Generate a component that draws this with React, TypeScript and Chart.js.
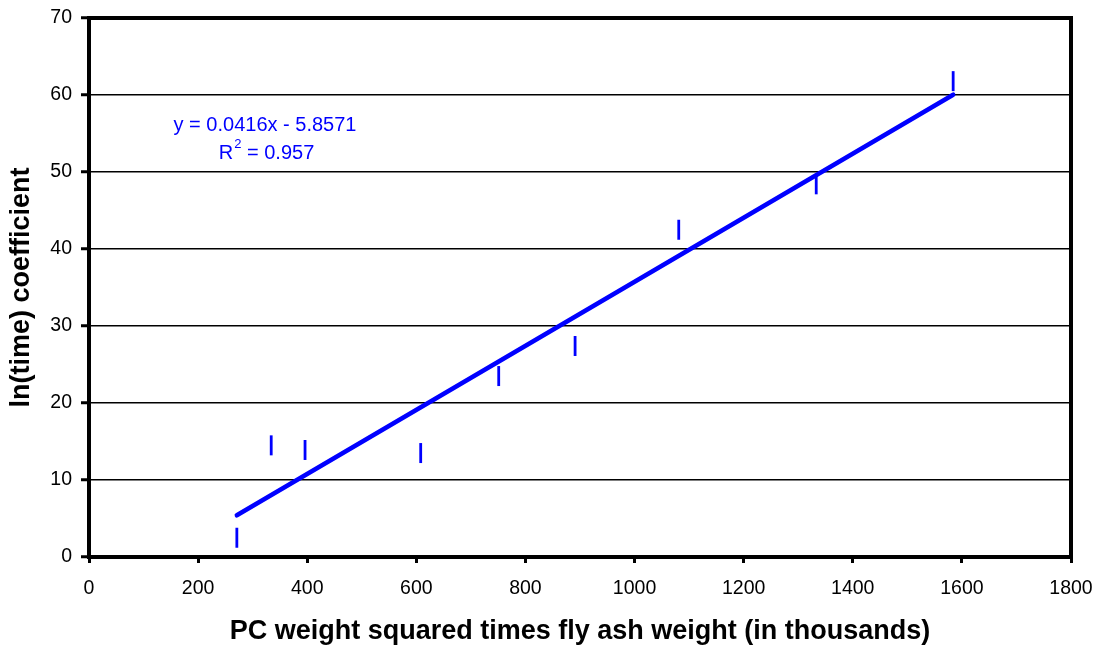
import React, { useEffect, useRef } from "react";
import { Chart, registerables } from "chart.js";

Chart.register(...registerables);

const xValues = [271, 334, 396, 608, 751, 891, 1081, 1333, 1584];
const yValues = [2.5, 14.5, 13.9, 13.5, 23.5, 27.4, 42.5, 48.4, 61.8];
const slope = 0.0416;
const intercept = -5.8571;
const equationText = "y = 0.0416x - 5.8571";
const r2Value = "0.957";
const xTitle = "PC weight squared times fly ash weight (in thousands)";
const yTitle = "ln(time) coefficient";

const FONT = "'Liberation Sans', Arial, sans-serif";

export default function App() {
  const ref = useRef<HTMLCanvasElement | null>(null);

  useEffect(() => {
    document.body.style.margin = "0";
    const canvas = ref.current!;
    const xMin = Math.min(...xValues);
    const xMax = Math.max(...xValues);
    const trend = [
      { x: xMin, y: slope * xMin + intercept },
      { x: xMax, y: slope * xMax + intercept },
    ];
    const points = xValues.map((x, i) => ({ x, y: yValues[i] }));

    const borderPlugin = {
      id: "frame",
      afterDatasetsDraw(chart: any) {
        const { ctx, chartArea } = chart;
        ctx.save();
        ctx.strokeStyle = "#000";
        ctx.lineWidth = 4;
        ctx.lineJoin = "miter";
        ctx.strokeRect(
          chartArea.left,
          chartArea.top,
          chartArea.right - chartArea.left,
          chartArea.bottom - chartArea.top
        );
        ctx.restore();
      },
      afterDraw(chart: any) {
        const { ctx } = chart;
        ctx.save();
        ctx.fillStyle = "#0000ff";
        ctx.textBaseline = "middle";
        ctx.font = `20px ${FONT}`;
        ctx.textAlign = "center";
        ctx.fillText(equationText, 265, 125);
        const part1 = "R";
        const part3 = " = " + r2Value;
        ctx.font = `20px ${FONT}`;
        const w1 = ctx.measureText(part1).width;
        const w3 = ctx.measureText(part3).width;
        ctx.font = `13px ${FONT}`;
        const w2 = ctx.measureText("2").width;
        const total = w1 + w2 + w3;
        let x = 266 - total / 2;
        ctx.textAlign = "left";
        ctx.font = `20px ${FONT}`;
        ctx.fillText(part1, x, 153);
        x += w1;
        ctx.font = `13px ${FONT}`;
        ctx.fillText("2", x + 1, 144);
        x += w2 + 1;
        ctx.font = `20px ${FONT}`;
        ctx.fillText(part3, x, 153);
        ctx.restore();
      },
    };

    const chart = new Chart(canvas, {
      type: "scatter",
      data: {
        datasets: [
          {
            data: trend,
            showLine: true,
            borderColor: "#0000ff",
            borderWidth: 4.5,
            borderCapStyle: "round",
            pointRadius: 0,
            pointHoverRadius: 0,
            order: 2,
          } as any,
          {
            data: points,
            pointStyle: "line",
            rotation: 90,
            pointRadius: 10,
            pointHoverRadius: 10,
            borderColor: "#0000ff",
            backgroundColor: "#0000ff",
            pointBorderWidth: 2.8,
            borderWidth: 2.8,
            showLine: false,
            order: 1,
          } as any,
        ],
      },
      options: {
        animation: false,
        responsive: false,
        events: [],
        layout: { padding: { top: 18, right: 28, bottom: 0, left: 0 } },
        plugins: {
          legend: { display: false },
          tooltip: { enabled: false },
        },
        scales: {
          x: {
            type: "linear",
            min: 0,
            max: 1800,
            ticks: {
              stepSize: 200,
              color: "#000",
              font: { family: FONT, size: 19.5 },
              padding: 14,
              callback: (v: any) => String(v),
            },
            grid: {
              drawOnChartArea: false,
              drawTicks: true,
              tickLength: 6,
              tickWidth: 3,
              tickColor: "#000",
            },
            border: { display: true, color: "#000", width: 4 },
            title: {
              display: true,
              text: xTitle,
              color: "#000",
              font: { family: FONT, size: 27, weight: "bold" },
              padding: { top: 4, bottom: 0 },
            },
            afterFit(scale: any) {
              scale.height = 91;
              scale.paddingLeft = 0;
              scale.paddingRight = 0;
            },
          },
          y: {
            type: "linear",
            min: 0,
            max: 70,
            ticks: {
              stepSize: 10,
              color: "#000",
              font: { family: FONT, size: 19.5 },
              padding: 9,
              callback: (v: any) => String(v),
            },
            grid: {
              color: "#000",
              lineWidth: 1.5,
              drawTicks: true,
              tickLength: 8,
              tickWidth: 3,
              tickColor: "#000",
            },
            border: { display: true, color: "#000", width: 4 },
            title: {
              display: true,
              text: yTitle,
              color: "#000",
              font: { family: FONT, size: 27, weight: "bold" },
              padding: { top: 5, bottom: 4 },
            },
            afterFit(scale: any) {
              scale.width = 89;
              scale.paddingTop = 0;
              scale.paddingBottom = 0;
            },
          },
        },
      },
      plugins: [borderPlugin],
    } as any);

    return () => chart.destroy();
  }, []);

  return (
    <div style={{ position: "absolute", left: 0, top: 0, width: 1099, height: 648, background: "#fff" }}>
      <canvas ref={ref} width={1099} height={648} style={{ display: "block", width: 1099, height: 648 }} />
    </div>
  );
}
